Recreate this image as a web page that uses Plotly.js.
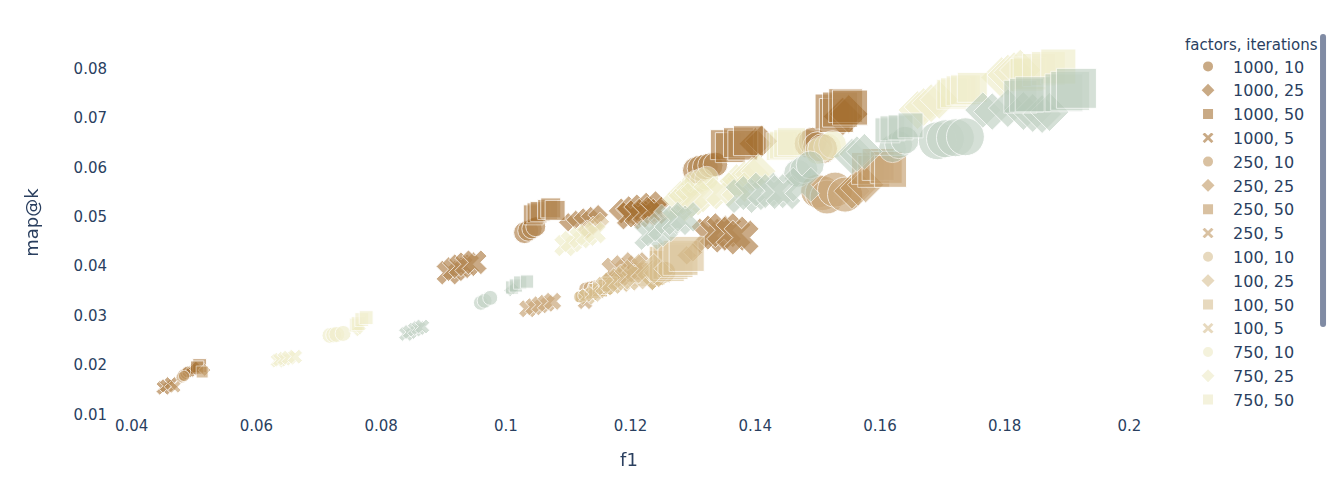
<!DOCTYPE html>
<html>
<head>
<meta charset="utf-8">
<script src="https://cdn.plot.ly/plotly-3.0.1.min.js"></script>
<style>
  html, body { margin: 0; padding: 0; background: #fff; }
</style>
</head>
<body>
<div id="chart" style="width:1335px;height:504px;"></div>
<script>
// legend order as it appears in the data
var factors = ['1000', '250', '100', '750', '500'];
var iterations = ['10', '25', '50', '5'];

// factors 1000
var f1_1000_10 = [0.0483, 0.0487, 0.0490, 0.1030, 0.1036, 0.1042, 0.1048, 0.1305, 0.1312, 0.1320, 0.1328, 0.1336, 0.1485, 0.1492, 0.1500, 0.1508];
var map_1000_10 = [0.0180, 0.0183, 0.0186, 0.0468, 0.0472, 0.0476, 0.0480, 0.0594, 0.0598, 0.0601, 0.0604, 0.0606, 0.0648, 0.0652, 0.0642, 0.0638];
var sz_1000_10 = [0.09, 0.09, 0.09, 0.30, 0.28, 0.26, 0.25, 0.46, 0.44, 0.42, 0.40, 0.38, 0.50, 0.52, 0.56, 0.56];

var f1_1000_25 = [0.0498, 0.0503, 0.1100, 0.1112, 0.1124, 0.1136, 0.1148, 0.1185, 0.1197, 0.1210, 0.1225, 0.1240, 0.1400, 0.1410, 0.1540, 0.1550];
var map_1000_25 = [0.0190, 0.0193, 0.0489, 0.0494, 0.0498, 0.0501, 0.0504, 0.0512, 0.0516, 0.0519, 0.0522, 0.0525, 0.0648, 0.0653, 0.0703, 0.0708];
var sz_1000_25 = [0.08, 0.08, 0.14, 0.14, 0.15, 0.15, 0.16, 0.25, 0.26, 0.27, 0.28, 0.28, 0.39, 0.39, 0.56, 0.56];

var f1_1000_50 = [0.0509, 0.0505, 0.1044, 0.1050, 0.1055, 0.1067, 0.1072, 0.1079, 0.1352, 0.1360, 0.1373, 0.1380, 0.1389, 0.1524, 0.1530, 0.1536, 0.1545, 0.1552];
var map_1000_50 = [0.0199, 0.0195, 0.0504, 0.0508, 0.0511, 0.0515, 0.0518, 0.0513, 0.0646, 0.0640, 0.0650, 0.0645, 0.0654, 0.0713, 0.0705, 0.0717, 0.0725, 0.0721];
var sz_1000_50 = [0.12, 0.11, 0.25, 0.25, 0.25, 0.25, 0.25, 0.25, 0.56, 0.56, 0.56, 0.56, 0.56, 0.77, 0.72, 0.77, 0.72, 0.77];

var f1_1000_5 = [0.0451, 0.0456, 0.0463, 0.0908, 0.0918, 0.0928, 0.0938, 0.0950, 0.1200, 0.1212, 0.1225, 0.1238, 0.1325, 0.1338, 0.1350, 0.1365, 0.1378];
var map_1000_5 = [0.0154, 0.0158, 0.0163, 0.0387, 0.0394, 0.0400, 0.0404, 0.0408, 0.0502, 0.0506, 0.0509, 0.0513, 0.0462, 0.0468, 0.0473, 0.0466, 0.0458];
var sz_1000_5 = [0.11, 0.10, 0.09, 0.30, 0.30, 0.30, 0.30, 0.30, 0.39, 0.39, 0.39, 0.39, 0.60, 0.60, 0.60, 0.60, 0.60];

// factors 250
var f1_250_10 = [0.0480, 0.0484, 0.1128, 0.1135, 0.1142, 0.1500, 0.1508, 0.1515, 0.1528, 0.1544];
var map_250_10 = [0.0175, 0.0178, 0.0354, 0.0356, 0.0358, 0.0552, 0.0548, 0.0540, 0.0555, 0.0545];
var sz_250_10 = [0.08, 0.08, 0.12, 0.12, 0.12, 0.72, 0.77, 0.72, 0.77, 0.77];

var f1_250_25 = [0.0517, 0.1165, 0.1175, 0.1191, 0.1290, 0.1300, 0.1555, 0.1565, 0.1577];
var map_250_25 = [0.0190, 0.0368, 0.0373, 0.0383, 0.0422, 0.0428, 0.0552, 0.0558, 0.0565];
var sz_250_25 = [0.06, 0.20, 0.20, 0.20, 0.14, 0.14, 0.49, 0.49, 0.49];

var f1_250_50 = [0.0513, 0.1208, 0.1215, 0.1580, 0.1590, 0.1597, 0.1610, 0.1617];
var map_250_50 = [0.0186, 0.0386, 0.0390, 0.0598, 0.0592, 0.0606, 0.0600, 0.0592];
var sz_250_50 = [0.09, 0.20, 0.20, 0.64, 0.64, 0.64, 0.64, 0.64];

var f1_250_5 = [0.0469, 0.1035, 0.1045, 0.1055, 0.1065, 0.1075, 0.1127, 0.1175, 0.1190, 0.1207];
var map_250_5 = [0.0156, 0.0314, 0.0318, 0.0322, 0.0325, 0.0329, 0.0328, 0.0390, 0.0395, 0.0401];
var sz_250_5 = [0.08, 0.16, 0.16, 0.16, 0.16, 0.16, 0.12, 0.39, 0.39, 0.39];

// factors 100
var f1_100_10 = [0.1118, 0.1125, 0.1135, 0.1245, 0.1255];
var map_100_10 = [0.0338, 0.0341, 0.0345, 0.0382, 0.0388];
var sz_100_10 = [0.09, 0.09, 0.09, 0.30, 0.30];

var f1_100_25 = [0.1130, 0.1140, 0.1151, 0.1143, 0.1155, 0.1167, 0.1235, 0.1245];
var map_100_25 = [0.0474, 0.0482, 0.0490, 0.0347, 0.0352, 0.0357, 0.0382, 0.0388];
var sz_100_25 = [0.14, 0.14, 0.14, 0.11, 0.11, 0.11, 0.36, 0.36];

var f1_100_50 = [0.1145, 0.1151, 0.1160, 0.1167, 0.1258, 0.1264, 0.1272, 0.1280, 0.1290];
var map_100_50 = [0.0350, 0.0353, 0.0358, 0.0363, 0.0405, 0.0409, 0.0413, 0.0417, 0.0425];
var sz_100_50 = [0.14, 0.14, 0.14, 0.14, 0.77, 0.77, 0.77, 0.77, 0.77];

var f1_100_5 = [0.1130, 0.1140, 0.1159, 0.1170, 0.1183, 0.1195, 0.1207, 0.1225];
var map_100_5 = [0.0338, 0.0344, 0.0360, 0.0366, 0.0372, 0.0377, 0.0383, 0.0395];
var sz_100_5 = [0.14, 0.14, 0.20, 0.25, 0.30, 0.36, 0.46, 0.46];

// factors 750
var f1_750_10 = [0.0718, 0.0724, 0.0729, 0.0739, 0.1300, 0.1305, 0.1314, 0.1322, 0.1500, 0.1505, 0.1516, 0.1524];
var map_750_10 = [0.0260, 0.0261, 0.0262, 0.0264, 0.0566, 0.0570, 0.0574, 0.0578, 0.0632, 0.0637, 0.0641, 0.0646];
var sz_750_10 = [0.16, 0.16, 0.16, 0.16, 0.36, 0.36, 0.36, 0.36, 0.42, 0.42, 0.49, 0.49];

var f1_750_25 = [0.0762, 0.0766, 0.1280, 0.1290, 0.1370, 0.1382, 0.1395, 0.1405, 0.1660, 0.1670, 0.1682, 0.1695, 0.1795, 0.1805, 0.1815, 0.1825];
var map_750_25 = [0.0270, 0.0274, 0.0546, 0.0553, 0.0572, 0.0578, 0.0586, 0.0592, 0.0716, 0.0722, 0.0730, 0.0737, 0.0782, 0.0787, 0.0792, 0.0797];
var sz_750_25 = [0.06, 0.06, 0.28, 0.28, 0.46, 0.46, 0.46, 0.46, 0.56, 0.56, 0.56, 0.56, 0.64, 0.64, 0.64, 0.64];

var f1_750_50 = [0.0760, 0.0763, 0.0769, 0.0776, 0.1440, 0.1445, 0.1452, 0.1458, 0.1715, 0.1721, 0.1730, 0.1737, 0.1748, 0.1835, 0.1840, 0.1855, 0.1870, 0.1886];
var map_750_50 = [0.0281, 0.0284, 0.0292, 0.0296, 0.0642, 0.0645, 0.0648, 0.0652, 0.0748, 0.0751, 0.0755, 0.0757, 0.0762, 0.0787, 0.0790, 0.0797, 0.0800, 0.0804];
var sz_750_50 = [0.12, 0.12, 0.12, 0.12, 0.49, 0.49, 0.49, 0.49, 0.56, 0.56, 0.56, 0.56, 0.56, 0.68, 0.68, 0.68, 0.72, 0.77];

var f1_750_5 = [0.0634, 0.0638, 0.0645, 0.0652, 0.0662, 0.1095, 0.1105, 0.1119, 0.1130, 0.1143, 0.1275, 0.1285, 0.1296, 0.1304, 0.1325, 0.1345, 0.1370];
var map_750_5 = [0.0209, 0.0211, 0.0213, 0.0215, 0.0217, 0.0442, 0.0450, 0.0458, 0.0463, 0.0468, 0.0520, 0.0527, 0.0533, 0.0539, 0.0545, 0.0550, 0.0560];
var sz_750_5 = [0.11, 0.11, 0.11, 0.11, 0.11, 0.25, 0.25, 0.25, 0.25, 0.25, 0.46, 0.46, 0.46, 0.46, 0.46, 0.46, 0.46];

// factors 500
var f1_500_10 = [0.0960, 0.0966, 0.0975, 0.1468, 0.1478, 0.1488, 0.1620, 0.1630, 0.1640, 0.1692, 0.1705, 0.1721, 0.1737];
var map_500_10 = [0.0326, 0.0330, 0.0336, 0.0588, 0.0596, 0.0605, 0.0638, 0.0646, 0.0655, 0.0654, 0.0658, 0.0660, 0.0662];
var sz_500_10 = [0.14, 0.14, 0.14, 0.49, 0.49, 0.49, 0.49, 0.49, 0.49, 0.90, 0.90, 0.90, 0.90];

var f1_500_25 = [0.1007, 0.1012, 0.1555, 0.1563, 0.1575, 0.1765, 0.1780, 0.1805, 0.1830, 0.1845, 0.1860, 0.1872];
var map_500_25 = [0.0351, 0.0355, 0.0622, 0.0627, 0.0632, 0.0716, 0.0713, 0.0720, 0.0714, 0.0710, 0.0708, 0.0712];
var sz_500_25 = [0.06, 0.06, 0.49, 0.49, 0.49, 0.49, 0.52, 0.56, 0.56, 0.56, 0.56, 0.56];

var f1_500_50 = [0.1010, 0.1016, 0.1023, 0.1034, 0.1612, 0.1620, 0.1633, 0.1649, 0.1825, 0.1835, 0.1845, 0.1895, 0.1905, 0.1915];
var map_500_50 = [0.0357, 0.0361, 0.0367, 0.0369, 0.0675, 0.0679, 0.0681, 0.0685, 0.0743, 0.0746, 0.0748, 0.0751, 0.0755, 0.0760];
var sz_500_50 = [0.11, 0.11, 0.11, 0.11, 0.39, 0.39, 0.39, 0.39, 0.68, 0.72, 0.77, 0.90, 0.95, 1.00];

var f1_500_5 = [0.0840, 0.0846, 0.0854, 0.0860, 0.0866, 0.1230, 0.1240, 0.1252, 0.1262, 0.1275, 0.1288, 0.1380, 0.1395, 0.1415, 0.1430, 0.1445, 0.1475];
var map_500_5 = [0.0263, 0.0267, 0.0272, 0.0275, 0.0278, 0.0463, 0.0470, 0.0480, 0.0495, 0.0493, 0.0500, 0.0542, 0.0548, 0.0555, 0.0552, 0.0550, 0.0565];
var sz_500_5 = [0.11, 0.11, 0.11, 0.11, 0.11, 0.46, 0.46, 0.46, 0.46, 0.46, 0.46, 0.60, 0.60, 0.60, 0.60, 0.60, 0.60];

var groups = {
  '1000, 10': [f1_1000_10, map_1000_10, sz_1000_10],
  '1000, 25': [f1_1000_25, map_1000_25, sz_1000_25],
  '1000, 50': [f1_1000_50, map_1000_50, sz_1000_50],
  '1000, 5': [f1_1000_5, map_1000_5, sz_1000_5],
  '250, 10': [f1_250_10, map_250_10, sz_250_10],
  '250, 25': [f1_250_25, map_250_25, sz_250_25],
  '250, 50': [f1_250_50, map_250_50, sz_250_50],
  '250, 5': [f1_250_5, map_250_5, sz_250_5],
  '100, 10': [f1_100_10, map_100_10, sz_100_10],
  '100, 25': [f1_100_25, map_100_25, sz_100_25],
  '100, 50': [f1_100_50, map_100_50, sz_100_50],
  '100, 5': [f1_100_5, map_100_5, sz_100_5],
  '750, 10': [f1_750_10, map_750_10, sz_750_10],
  '750, 25': [f1_750_25, map_750_25, sz_750_25],
  '750, 50': [f1_750_50, map_750_50, sz_750_50],
  '750, 5': [f1_750_5, map_750_5, sz_750_5],
  '500, 10': [f1_500_10, map_500_10, sz_500_10],
  '500, 25': [f1_500_25, map_500_25, sz_500_25],
  '500, 50': [f1_500_50, map_500_50, sz_500_50],
  '500, 5': [f1_500_5, map_500_5, sz_500_5]
};

// carto Earth
var colors = ['rgb(161, 105, 40)', 'rgb(189, 146, 90)', 'rgb(214, 189, 141)', 'rgb(237, 234, 194)', 'rgb(181, 200, 184)'];
var symbols = ['circle', 'diamond', 'square', 'x'];

var maxSize = 0;
Object.keys(groups).forEach(function (k) {
  groups[k][2].forEach(function (v) { if (v > maxSize) maxSize = v; });
});
var sizeref = 2 * maxSize / (40 * 40);

var data = [];
factors.forEach(function (f, fi) {
  iterations.forEach(function (it, ii) {
    var name = f + ', ' + it;
    var g = groups[name];
    data.push({
      type: 'scatter',
      mode: 'markers',
      name: name,
      legendgroup: name,
      x: g[0],
      y: g[1],
      opacity: 0.8,
      marker: {
        color: colors[fi],
        symbol: symbols[ii],
        size: g[2],
        sizemode: 'area',
        sizeref: sizeref,
        line: { color: 'white', width: 1 }
      }
    });
  });
});

var layout = {
  width: 1335,
  height: 504,
  margin: { l: 108, r: 185, t: 30, b: 89, autoexpand: false },
  font: { family: '"DejaVu Sans", Verdana, sans-serif', size: 15, color: '#2a3f5f' },
  paper_bgcolor: 'white',
  plot_bgcolor: 'white',
  xaxis: {
    title: { text: 'f1', standoff: 19 },
    range: [0.0362, 0.2033],
    dtick: 0.02,
    showgrid: false,
    zeroline: false
  },
  yaxis: {
    title: { text: 'map@k', standoff: 30 },
    range: [0.0099, 0.0878],
    dtick: 0.01,
    showgrid: false,
    zeroline: false
  },
  legend: {
    title: { text: 'factors, iterations', font: { size: 15 } },
    font: { size: 16 },
    x: 1.0317,
    itemsizing: 'constant',
    itemwidth: 40,
    tracegroupgap: 0
  }
};

Plotly.newPlot('chart', data, layout, { displayModeBar: false });
</script>
</body>
</html>
